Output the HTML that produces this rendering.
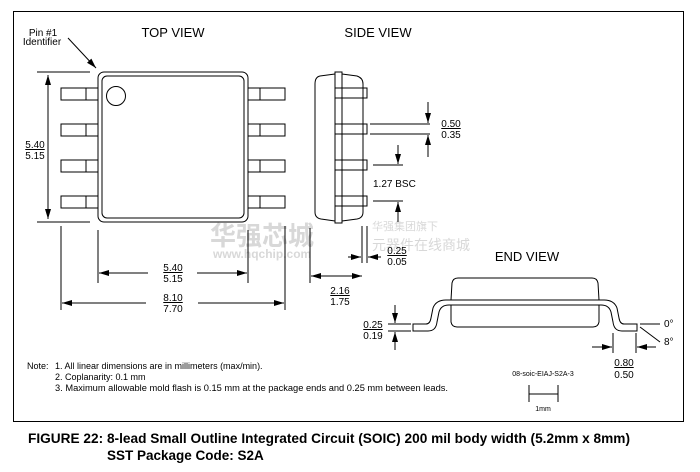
<!DOCTYPE html>
<html><head><meta charset="utf-8"><style>
body{margin:0;background:#fff;}
svg{display:block;font-family:"Liberation Sans",Arial,sans-serif;}
</style></head><body>
<svg width="700" height="472" viewBox="0 0 700 472" xmlns="http://www.w3.org/2000/svg">
<defs>
<marker id="a" viewBox="0 0 10 6" refX="10" refY="3" markerWidth="10" markerHeight="6" orient="auto" markerUnits="userSpaceOnUse"><path d="M0,0L10,3L0,6z" fill="#000"/></marker>
</defs>
<rect x="13.5" y="11.5" width="670" height="410" fill="none" stroke="#000" stroke-width="1"/>
<g font-size="13" fill="#000">
<text x="173" y="37" text-anchor="middle">TOP VIEW</text>
<text x="378" y="37" text-anchor="middle">SIDE VIEW</text>
<text x="527" y="261" text-anchor="middle">END VIEW</text>
</g>
<g fill="#d8d8d8">
<text x="210" y="245" font-size="26" font-weight="bold" font-family="'Noto Sans CJK SC',sans-serif">华强芯城</text>
<text x="213" y="258" font-size="12" font-weight="bold">www.hqchip.com</text>
<text x="372" y="230" font-size="11" font-family="'Noto Sans CJK SC',sans-serif">华强集团旗下</text>
<text x="372" y="250" font-size="14" font-family="'Noto Sans CJK SC',sans-serif">元器件在线商城</text>
</g>
<g stroke="#000" fill="none" stroke-width="1">
<rect x="98" y="72" width="150" height="150" rx="6"/>
<rect x="102" y="76" width="142" height="142" rx="5"/>
<circle cx="116" cy="96" r="9.5"/>
<g fill="#fff">
<rect x="61" y="88" width="37" height="12"/><rect x="61" y="124" width="37" height="12"/>
<rect x="61" y="160" width="37" height="12"/><rect x="61" y="196" width="37" height="12"/>
<rect x="248" y="88" width="37" height="12"/><rect x="248" y="124" width="37" height="12"/>
<rect x="248" y="160" width="37" height="12"/><rect x="248" y="196" width="37" height="12"/>
</g>
<path d="M86 88v12M86 124v12M86 160v12M86 196v12M260 88v12M260 124v12M260 160v12M260 196v12"/>
<path d="M37 72h53M37 222h53"/>
<line x1="48" y1="110" x2="48" y2="75" marker-end="url(#a)"/>
<line x1="48" y1="180" x2="48" y2="219" marker-end="url(#a)"/>
<line x1="48" y1="110" x2="48" y2="180"/>
<line x1="68" y1="38" x2="96" y2="68" marker-end="url(#a)"/>
<path d="M61 226v84M98 230v53M248 230v53M285 226v84"/>
<line x1="148" y1="273" x2="99" y2="273" marker-end="url(#a)"/>
<line x1="197" y1="273" x2="247" y2="273" marker-end="url(#a)"/>
<line x1="146" y1="303" x2="62" y2="303" marker-end="url(#a)"/>
<line x1="198" y1="303" x2="284" y2="303" marker-end="url(#a)"/>
<path d="M335 74 L320 76 Q315 77 315 84 L315 212 Q315 218 321 219 L335 221"/>
<path d="M342 74 L357 76 Q363 78 363 84 L363 212 Q363 218 357 219 L342 221"/>
<rect x="335" y="72" width="7" height="151" fill="#fff"/>
<g fill="#fff">
<rect x="335" y="88" width="32" height="10"/><rect x="335" y="124" width="32" height="10"/>
<rect x="335" y="160" width="32" height="10"/><rect x="335" y="196" width="32" height="10"/>
</g>
<path d="M342 88v10M342 124v10M342 160v10M342 196v10M363 88v10M363 124v10M363 160v10M363 196v10"/>
<path d="M370 124h60M370 134h60M373 165h30M373 201h30"/>
<line x1="428" y1="102" x2="428" y2="123" marker-end="url(#a)"/>
<line x1="428" y1="157" x2="428" y2="135" marker-end="url(#a)"/>
<line x1="398" y1="145" x2="398" y2="164" marker-end="url(#a)"/>
<line x1="398" y1="222" x2="398" y2="202" marker-end="url(#a)"/>
<path d="M362 226v37M367 226v37M310 228v55"/>
<line x1="348" y1="257" x2="361" y2="257" marker-end="url(#a)"/>
<line x1="381" y1="257" x2="368" y2="257" marker-end="url(#a)"/>
<line x1="336" y1="276" x2="311" y2="276" marker-end="url(#a)"/>
<line x1="336" y1="276" x2="362" y2="276" marker-end="url(#a)"/>
<path d="M451 300 L452 283 Q453 278 458 278 L592 278 Q597 278 598 283 L599 300"/>
<path d="M451 305 L451 322 Q452 327 457 327 L593 327 Q598 327 599 322 L599 305"/>
<path d="M413 331 L428 331 Q436 331 437 322 L439 312 Q441 305 449 305 L601 305 Q609 305 611 312 L613 322 Q614 331 622 331 L637 331 L637 324 L624 324 Q620 324 619 318 L617 308 Q614 300 604 300 L446 300 Q436 300 433 308 L431 318 Q430 324 426 324 L413 324 Z" fill="#fff"/>
<path d="M388 324h23M388 331h23"/>
<line x1="395" y1="305" x2="395" y2="323" marker-end="url(#a)"/>
<line x1="395" y1="350" x2="395" y2="332" marker-end="url(#a)"/>
<path d="M640 324h20M640 327l20 15"/>
<path d="M613 333v20M636 333v20"/>
<line x1="592" y1="347" x2="612" y2="347" marker-end="url(#a)"/>
<line x1="656" y1="347" x2="637" y2="347" marker-end="url(#a)"/>
<path d="M529 394h29M529 385v17M558 385v17"/>
</g>
<g font-size="10" fill="#000">
<text x="43" y="36" text-anchor="middle">Pin #1</text>
<text x="42" y="45" text-anchor="middle">Identifier</text>
<text x="35" y="148" text-anchor="middle" text-decoration="underline">5.40</text>
<text x="35" y="159" text-anchor="middle">5.15</text>
<text x="173" y="271" text-anchor="middle" text-decoration="underline">5.40</text>
<text x="173" y="282" text-anchor="middle">5.15</text>
<text x="173" y="301" text-anchor="middle" text-decoration="underline">8.10</text>
<text x="173" y="312" text-anchor="middle">7.70</text>
<text x="340" y="294" text-anchor="middle" text-decoration="underline">2.16</text>
<text x="340" y="305" text-anchor="middle">1.75</text>
<text x="451" y="127" text-anchor="middle" text-decoration="underline">0.50</text>
<text x="451" y="138" text-anchor="middle">0.35</text>
<text x="373" y="187">1.27 BSC</text>
<text x="397" y="254" text-anchor="middle" text-decoration="underline">0.25</text>
<text x="397" y="265" text-anchor="middle">0.05</text>
<text x="373" y="328" text-anchor="middle" text-decoration="underline">0.25</text>
<text x="373" y="339" text-anchor="middle">0.19</text>
<text x="624" y="366" text-anchor="middle" text-decoration="underline">0.80</text>
<text x="624" y="378" text-anchor="middle">0.50</text>
<text x="664" y="327">0°</text>
<text x="664" y="345">8°</text>
</g>
<g font-size="9" fill="#000">
<text x="27" y="369">Note:</text>
<text x="55" y="369">1. All linear dimensions are in millimeters (max/min).</text>
<text x="55" y="380">2. Coplanarity: 0.1 mm</text>
<text x="55" y="391" textLength="393" lengthAdjust="spacingAndGlyphs">3. Maximum allowable mold flash is 0.15 mm at the package ends and 0.25 mm between leads.</text>
<text x="543" y="376" text-anchor="middle" font-size="7">08-soic-EIAJ-S2A-3</text>
<text x="543" y="411" text-anchor="middle" font-size="7">1mm</text>
</g>
<g font-size="13.5" font-weight="bold" fill="#000">
<text x="28" y="443" textLength="602" lengthAdjust="spacingAndGlyphs">FIGURE 22: 8-lead Small Outline Integrated Circuit (SOIC) 200 mil body width (5.2mm x 8mm)</text>
<text x="107" y="460">SST Package Code: S2A</text>
</g>
</svg>
</body></html>
